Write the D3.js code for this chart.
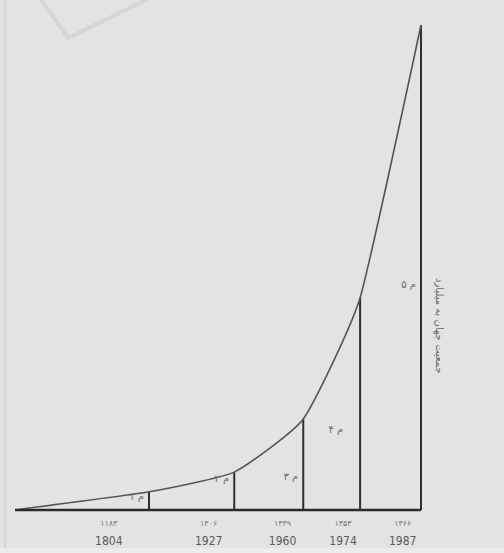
<!DOCTYPE html>
<html>
<head>
<meta charset="utf-8">
<script src="https://cdn.jsdelivr.net/npm/d3@7"></script>
<style>
  body { margin: 0; background: #e3e3e3; }
  svg { display: block; }
</style>
</head>
<body>
<div id="chart"></div>
<script>
'use strict';

// posicion relativa de cada punto en el eje (0 = origen, 100 = ultimo)
const steps = [0, 33, 54, 71, 85, 100];
// altura de la curva en cada paso (unidades relativas)
const levels = [0, 1.2, 2.5, 6, 14, 32];
// etiquetas junto a cada vertical
const pointLabels = ['۱ م', '۲ م', '۳ م', '۴ م', '۵ م'];
// años (solar y gregoriano)
const yearsSolar = ['۱۱۸۳', '۱۳۰۶', '۱۳۳۹', '۱۳۵۳', '۱۳۶۶'];
const yearsGreg = ['1804', '1927', '1960', '1974', '1987'];
const axisTitle = 'جمعیت جهان به میلیارد';

function drawChart(elementID) {
  const width = 504;
  const height = 553;

  const scaleX = d3.scaleLinear()
    .domain([0, 100])
    .range([15, 421]);

  const scaleY = d3.scaleLinear()
    .domain([0, 32])
    .range([510, 25]);

  const svg = d3.select('#' + elementID)
    .append('svg')
    .attr('width', width)
    .attr('height', height);

  // fondo
  svg.append('rect')
    .attr('width', width)
    .attr('height', height)
    .attr('fill', '#e3e3e3');
  svg.append('rect')
    .attr('x', 0).attr('y', 548)
    .attr('width', width).attr('height', 5)
    .attr('fill', '#ececec');
  svg.append('line')
    .attr('x1', 5).attr('x2', 5)
    .attr('y1', 0).attr('y2', 548)
    .attr('stroke', '#d2d2d2')
    .attr('stroke-width', 1.5);

  // marca de agua de la esquina
  svg.append('path')
    .attr('d', 'M38,-5 L68,38 L150,-2')
    .attr('fill', 'none')
    .attr('stroke', '#d6d6d6')
    .attr('stroke-width', 4);

  const pts = steps.map((s, i) => [s, levels[i]]);

  // verticales
  svg.selectAll('.bar')
    .data(pts.slice(1))
    .enter()
    .append('line')
    .attr('class', 'bar')
    .attr('x1', d => scaleX(d[0]))
    .attr('x2', d => scaleX(d[0]))
    .attr('y1', scaleY(0))
    .attr('y2', d => scaleY(d[1]))
    .attr('stroke', '#2e2e2e')
    .attr('stroke-width', 2);

  // curva
  const line = d3.line()
    .x(d => scaleX(d[0]))
    .y(d => scaleY(d[1]))
    .curve(d3.curveCardinal.tension(0.55));

  svg.append('path')
    .datum(pts)
    .attr('d', line)
    .attr('fill', 'none')
    .attr('stroke', '#555')
    .attr('stroke-width', 1.6);

  // eje X
  svg.append('line')
    .attr('x1', scaleX(0))
    .attr('x2', scaleX(100))
    .attr('y1', scaleY(0))
    .attr('y2', scaleY(0))
    .attr('stroke', '#2a2a2a')
    .attr('stroke-width', 2.5);

  // etiquetas de puntos
  const labelDy = [10, 10, -8, -14, 10];
  svg.selectAll('.plabel')
    .data(pts.slice(1))
    .enter()
    .append('text')
    .attr('class', 'plabel')
    .attr('x', (d, i) => i === 3 ? scaleX(pts[i][0]) + 40 : scaleX(d[0]) - 5)
    .attr('y', (d, i) => scaleY(pts[i][1]) - labelDy[i])
    .attr('text-anchor', 'end')
    .attr('font-family', 'DejaVu Sans, sans-serif')
    .attr('font-size', 10)
    .attr('fill', '#6a6a6a')
    .text((d, i) => pointLabels[i]);

  // años
  const labelX = i => {
    const a = scaleX(steps[i]);
    const b = scaleX(steps[i + 1]);
    return b - 0.3 * (b - a);
  };

  svg.selectAll('.ysolar')
    .data(yearsSolar)
    .enter()
    .append('text')
    .attr('class', 'ysolar')
    .attr('x', (d, i) => labelX(i))
    .attr('y', 526)
    .attr('text-anchor', 'middle')
    .attr('font-family', 'DejaVu Sans, sans-serif')
    .attr('font-size', 8)
    .attr('fill', '#777')
    .text(d => d);

  svg.selectAll('.ygreg')
    .data(yearsGreg)
    .enter()
    .append('text')
    .attr('class', 'ygreg')
    .attr('x', (d, i) => labelX(i))
    .attr('y', 545)
    .attr('text-anchor', 'middle')
    .attr('font-family', 'Liberation Sans Narrow, DejaVu Sans Condensed, sans-serif')
    .attr('font-size', 12)
    .attr('fill', '#5a5a5a')
    .text(d => d);

  // titulo vertical
  const tx = scaleX(100) + 15;
  const ty = scaleY(levels[4]) + 28;
  svg.append('text')
    .attr('transform', `translate(${tx}, ${ty}) rotate(90)`)
    .attr('text-anchor', 'middle')
    .attr('font-family', 'DejaVu Sans, sans-serif')
    .attr('font-size', 10)
    .attr('fill', '#666')
    .text(axisTitle);
}

drawChart('chart');
</script>
</body>
</html>
